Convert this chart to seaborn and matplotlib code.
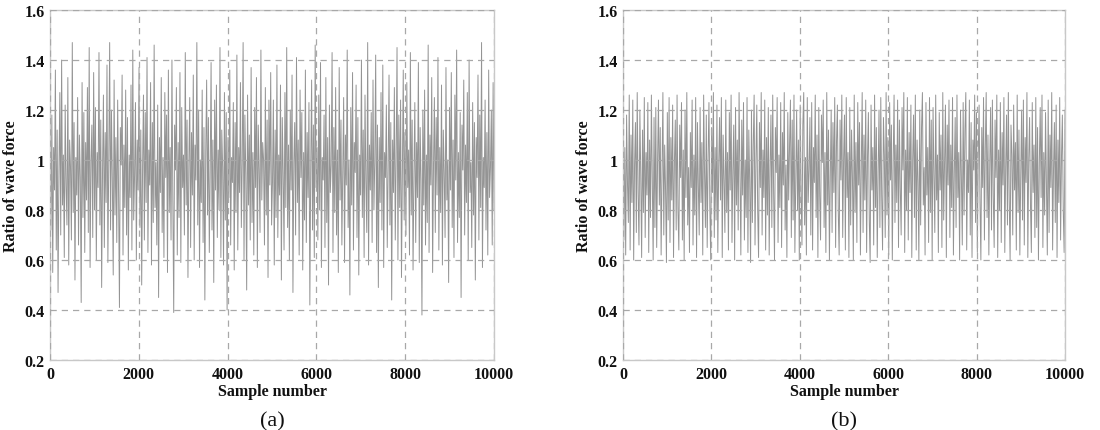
import numpy as np
import pandas as pd
import matplotlib
matplotlib.use("Agg")
import matplotlib.pyplot as plt
import seaborn as sns

# wave force ratio, panel (a) (subsampled)
ratio_a = [
    1.30, 0.72, 1.18, 0.55, 1.05, 0.88, 1.36, 0.64, 1.12, 0.47,
    0.95, 1.27, 0.70, 1.40, 0.82, 1.02, 0.61, 1.22, 0.90, 0.74,
    1.33, 0.58, 1.08, 0.97, 0.68, 1.47, 0.79, 1.15, 0.52, 1.01,
    0.86, 1.25, 0.66, 1.10, 0.93, 0.43, 1.31, 0.77, 1.19, 0.63,
    1.07, 0.84, 1.29, 0.71, 1.45, 0.57, 0.99, 1.14, 0.69, 1.35,
    0.80, 1.21, 0.60, 1.03, 0.89, 1.43, 0.74, 1.16, 0.49, 0.96,
    1.26, 0.65, 1.11, 0.83, 1.38, 0.59, 1.00, 1.47, 0.72, 1.20,
    0.92, 0.54, 1.32, 0.78, 1.09, 0.67, 1.24, 0.87, 0.41, 1.13,
    0.98, 1.34, 0.62, 1.06, 0.81, 1.28, 0.70, 1.17, 0.56, 1.02,
    0.85, 1.30, 0.64, 1.44, 0.76, 0.94, 1.23, 0.60, 1.08, 0.88,
    1.37, 0.73, 1.12, 0.50, 0.97, 1.26, 0.68, 1.19, 0.83, 1.41,
    0.63, 1.04, 0.90, 1.31, 0.58, 1.15, 0.75, 1.46, 0.81, 0.99,
    0.66, 1.22, 0.45, 1.09, 0.87, 1.33, 0.71, 1.01, 0.61, 1.27,
    0.93, 1.18, 0.55, 1.36, 0.79, 1.05, 0.68, 1.40, 0.84, 0.39,
    1.14, 0.96, 1.29, 0.62, 1.07, 0.77, 1.35, 0.59, 1.21, 0.89,
    1.02, 0.70, 1.43, 0.82, 1.16, 0.53, 0.98, 1.25, 0.65, 1.11,
    0.86, 1.34, 0.60, 1.06, 0.92, 1.47, 0.74, 1.20, 0.57, 1.00,
    0.83, 1.28, 0.67, 1.13, 0.44, 1.03, 1.32, 0.78, 1.17, 0.63,
    0.95, 1.39, 0.72, 1.08, 0.51, 1.24, 0.88, 1.30, 0.69, 1.04,
    0.80, 1.45, 0.61, 1.12, 0.97, 0.58, 1.27, 0.76, 1.19, 0.40,
    1.09, 0.85, 1.36, 0.66, 1.01, 0.91, 1.23, 0.56, 1.15, 0.79,
    1.42, 0.64, 1.05, 0.87, 1.31, 0.73, 0.99, 1.47, 0.60, 1.18,
    0.94, 0.48, 1.26, 0.82, 1.10, 0.68, 1.37, 0.75, 1.03, 0.62,
    1.21, 0.89, 1.33, 0.57, 1.14, 0.96, 0.71, 1.44, 0.84, 1.07,
    1.00, 0.66, 1.29, 0.78, 1.16, 0.53, 1.24, 0.90, 1.35, 0.74,
    0.91, 1.24, 0.58, 1.12, 0.77, 1.38, 0.69, 1.02, 0.86, 1.30,
    0.52, 1.17, 0.95, 0.64, 1.27, 0.81, 1.45, 0.73, 1.06, 0.60,
    1.20, 0.88, 1.34, 0.47, 0.99, 1.15, 0.70, 1.41, 0.83, 1.08,
    0.62, 1.28, 0.93, 1.19, 0.56, 1.03, 0.76, 1.36, 0.67, 1.11,
    0.85, 1.23, 0.42, 0.97, 1.32, 0.72, 1.14, 0.61, 1.46, 0.89,
    1.05, 0.68, 1.26, 0.80, 1.39, 0.57, 1.01, 0.92, 1.18, 0.65,
    1.33, 0.75, 1.09, 0.50, 1.22, 0.87, 0.98, 1.43, 0.63, 1.13,
    0.79, 1.29, 0.70, 1.04, 0.55, 1.37, 0.84, 1.16, 0.66, 0.94,
    1.25, 0.59, 1.10, 0.90, 1.44, 0.73, 1.00, 0.46, 1.21, 0.82,
    1.35, 0.64, 1.07, 0.95, 1.30, 0.69, 1.17, 0.54, 1.02, 0.86,
    1.40, 0.77, 1.12, 0.61, 1.26, 0.91, 0.71, 1.47, 0.58, 1.06,
    0.88, 1.19, 0.67, 1.32, 0.80, 0.99, 1.42, 0.63, 1.14, 0.49,
    1.09, 0.83, 1.27, 0.72, 1.38, 0.57, 1.03, 0.93, 1.22, 0.65,
    0.96, 1.34, 0.74, 1.15, 0.44, 1.08, 0.87, 1.29, 0.68, 1.01,
    1.45, 0.60, 1.18, 0.81, 1.24, 0.53, 0.97, 1.36, 0.76, 1.11,
    0.70, 1.31, 0.89, 1.04, 0.62, 1.43, 0.78, 1.16, 0.56, 0.94,
    1.23, 0.67, 1.07, 0.85, 1.39, 0.59, 1.13, 0.92, 0.38, 1.20,
    0.82, 1.28, 0.66, 1.02, 0.75, 1.46, 0.63, 1.10, 0.90, 1.33,
    0.55, 0.98, 1.25, 0.71, 1.17, 0.86, 1.41, 0.64, 1.05, 0.79,
    1.30, 0.58, 1.12, 0.95, 0.69, 1.37, 0.84, 1.00, 0.51, 1.21,
    0.88, 1.35, 0.73, 1.08, 0.61, 1.26, 0.92, 1.44, 0.67, 1.03,
    0.77, 1.19, 0.45, 1.14, 0.96, 1.32, 0.70, 1.06, 0.83, 1.27,
    0.60, 1.40, 0.87, 0.99, 0.65, 1.23, 0.78, 1.15, 0.52, 1.09,
    0.93, 1.34, 0.68, 1.18, 0.81, 1.47, 0.57, 1.01, 0.89, 1.24,
    0.72, 1.11, 0.62, 1.36, 0.85, 0.97, 1.20, 0.66, 1.31, 0.80,
]

# panel (b) - same kind of signal, bounded roughly 0.59 .. 1.27
ratio_b = [
    1.22, 0.68, 1.05, 0.62, 1.18, 0.91, 0.75, 1.26, 0.64, 1.10,
    0.83, 1.24, 0.60, 0.98, 1.15, 0.71, 1.27, 0.87, 0.66, 1.20,
    0.94, 0.61, 1.12, 0.79, 1.25, 0.69, 1.03, 0.86, 1.23, 0.63,
    1.08, 0.77, 1.26, 0.92, 0.60, 1.17, 0.73, 1.21, 0.65, 1.00,
    1.24, 0.82, 1.13, 0.62, 0.96, 1.27, 0.70, 1.06, 0.88, 0.59,
    1.19, 0.76, 1.25, 0.67, 1.09, 0.84, 1.22, 0.61, 0.99, 1.16,
    0.72, 1.26, 0.80, 0.64, 1.14, 0.93, 1.23, 0.68, 1.04, 0.60,
    1.20, 0.85, 1.27, 0.74, 0.97, 0.63, 1.11, 0.89, 1.24, 0.66,
    1.02, 0.78, 1.25, 0.61, 1.15, 0.90, 0.70, 1.21, 0.83, 1.07,
    0.62, 1.26, 0.95, 0.73, 1.18, 0.65, 1.01, 1.23, 0.81, 0.60,
    1.13, 0.87, 1.27, 0.69, 1.05, 0.76, 1.22, 0.63, 0.98, 1.17,
    0.84, 1.25, 0.61, 1.10, 0.92, 0.71, 1.24, 0.79, 1.03, 0.64,
    1.19, 0.88, 1.26, 0.67, 0.96, 1.14, 0.60, 1.21, 0.82, 1.08,
    0.72, 1.27, 0.94, 0.62, 1.16, 0.86, 1.23, 0.68, 1.00, 0.77,
    1.25, 0.63, 1.12, 0.91, 0.59, 1.20, 0.75, 1.06, 1.26, 0.66,
    0.99, 1.22, 0.80, 0.61, 1.15, 0.89, 1.27, 0.70, 1.04, 0.85,
    1.24, 0.64, 1.09, 0.78, 1.21, 0.62, 0.97, 1.18, 0.73, 1.26,
    0.87, 0.60, 1.13, 0.95, 1.25, 0.67, 1.02, 0.81, 1.23, 0.65,
    1.11, 0.90, 1.27, 0.72, 0.98, 0.61, 1.19, 0.84, 1.06, 1.24,
    0.69, 1.16, 0.76, 1.26, 0.63, 0.93, 1.20, 0.80, 1.08, 0.60,
    1.22, 0.88, 0.66, 1.14, 1.27, 0.74, 1.01, 0.62, 1.25, 0.83,
    0.96, 1.17, 0.70, 1.23, 0.64, 1.05, 0.91, 1.26, 0.77, 1.10,
    0.61, 1.21, 0.86, 0.68, 1.18, 0.99, 1.24, 0.73, 1.03, 0.63,
    1.27, 0.82, 1.12, 0.60, 0.94, 1.20, 0.71, 1.15, 0.87, 1.25,
    0.65, 1.07, 1.22, 0.79, 0.62, 1.16, 0.92, 1.26, 0.69, 1.00,
    1.18, 0.64, 1.25, 0.85, 1.03, 0.61, 1.21, 0.74, 1.12, 0.93,
    0.60, 1.26, 0.79, 1.07, 0.67, 1.23, 0.90, 1.15, 0.62, 0.98,
    1.27, 0.71, 1.10, 0.84, 1.24, 0.63, 1.01, 1.19, 0.76, 0.59,
    1.22, 0.88, 1.05, 0.66, 1.26, 0.81, 1.13, 0.61, 0.95, 1.20,
    0.73, 1.25, 0.86, 0.64, 1.17, 1.02, 0.69, 1.27, 0.78, 1.09,
    0.62, 1.23, 0.92, 1.14, 0.60, 0.99, 1.26, 0.75, 1.06, 0.83,
    1.24, 0.65, 1.16, 0.89, 0.70, 1.21, 0.96, 1.27, 0.63, 1.04,
    0.80, 1.25, 0.68, 1.11, 0.87, 1.22, 0.61, 1.00, 1.18, 0.77,
    1.26, 0.64, 1.08, 0.91, 0.60, 1.20, 0.74, 1.13, 1.27, 0.82,
    0.97, 0.62, 1.23, 0.86, 1.05, 0.67, 1.25, 0.79, 1.16, 0.60,
    1.21, 0.94, 0.71, 1.26, 0.84, 1.02, 0.63, 1.19, 0.88, 1.10,
    0.65, 1.27, 0.76, 0.99, 1.22, 0.61, 1.14, 0.90, 1.24, 0.69,
    1.06, 0.81, 1.25, 0.62, 0.95, 1.17, 0.73, 1.26, 0.85, 1.03,
    0.60, 1.20, 0.92, 0.66, 1.23, 0.78, 1.12, 1.27, 0.64, 1.00,
    0.87, 1.24, 0.70, 1.15, 0.61, 1.08, 0.96, 1.26, 0.75, 1.19,
    0.63, 1.01, 1.22, 0.83, 0.60, 1.13, 0.89, 1.25, 0.68, 1.05,
    1.27, 0.77, 1.10, 0.62, 0.98, 1.21, 0.72, 1.24, 0.86, 0.65,
    1.16, 0.93, 1.26, 0.61, 1.04, 0.80, 1.23, 0.67, 1.11, 0.90,
    1.25, 0.63, 0.97, 1.18, 0.74, 1.27, 0.84, 0.60, 1.14, 1.02,
    0.70, 1.22, 0.88, 1.07, 0.64, 1.26, 0.79, 1.12, 0.62, 0.94,
    1.20, 0.76, 1.24, 0.66, 1.09, 0.91, 1.27, 0.61, 1.00, 1.17,
    0.82, 0.63, 1.23, 0.87, 1.06, 0.69, 1.25, 0.73, 1.13, 0.60,
    0.99, 1.21, 0.85, 1.26, 0.65, 1.03, 0.78, 1.19, 0.92, 0.62,
    1.24, 0.71, 1.10, 0.89, 1.27, 0.64, 0.96, 1.15, 0.75, 1.22,
    0.61, 1.08, 0.83, 1.25, 0.68, 1.01, 1.18, 0.80, 0.63, 1.20,
]

x_ticks = [0, 2000, 4000, 6000, 8000, 10000]
y_ticks = [0.2, 0.4, 0.6, 0.8, 1.0, 1.2, 1.4, 1.6]
y_tick_labels = ["0.2", "0.4", "0.6", "0.8", "1", "1.2", "1.4", "1.6"]
panel_labels = ["(a)", "(b)"]

sns.set_style("white")
plt.rcParams["font.family"] = ["Liberation Serif", "DejaVu Serif"]

fig = plt.figure(figsize=(11, 4.31), dpi=100)
axes = [fig.add_axes([0.0455, 0.1624, 0.4036, 0.812]),
        fig.add_axes([0.5664, 0.1624, 0.4018, 0.812])]

for ax, vals, lab in zip(axes, [ratio_a, ratio_b], panel_labels):
    df = pd.DataFrame({"sample": np.linspace(0, 10000, len(vals)), "ratio": vals})
    sns.lineplot(data=df, x="sample", y="ratio", ax=ax, color="0.3",
                 linewidth=0.7, alpha=0.6)
    ax.set_xlim(0, 10000)
    ax.set_ylim(0.2, 1.6)
    ax.set_xticks(x_ticks)
    ax.set_yticks(y_ticks)
    ax.set_yticklabels(y_tick_labels)
    ax.grid(True, color="#a8a8a8", linestyle=(0, (5, 4)), linewidth=0.9)
    ax.set_axisbelow(False)
    for s in ax.spines.values():
        s.set_color("#c8c8c8")
        s.set_linewidth(1.0)
    ax.tick_params(length=0, labelsize=11.5, pad=4, labelcolor="#111111")
    for t in ax.get_xticklabels() + ax.get_yticklabels():
        t.set_fontweight("bold")
    ax.set_xlabel("Sample number", fontsize=11.5, fontweight="bold", labelpad=1,
                  color="#111111")
    ax.set_ylabel("Ratio of wave force", fontsize=11.5, fontweight="bold", labelpad=4,
                  color="#111111")
    ax.text(0.5, -0.175, lab, transform=ax.transAxes, ha="center", va="center",
            fontsize=16, color="#111111")

fig.savefig("out.png", dpi=100)
